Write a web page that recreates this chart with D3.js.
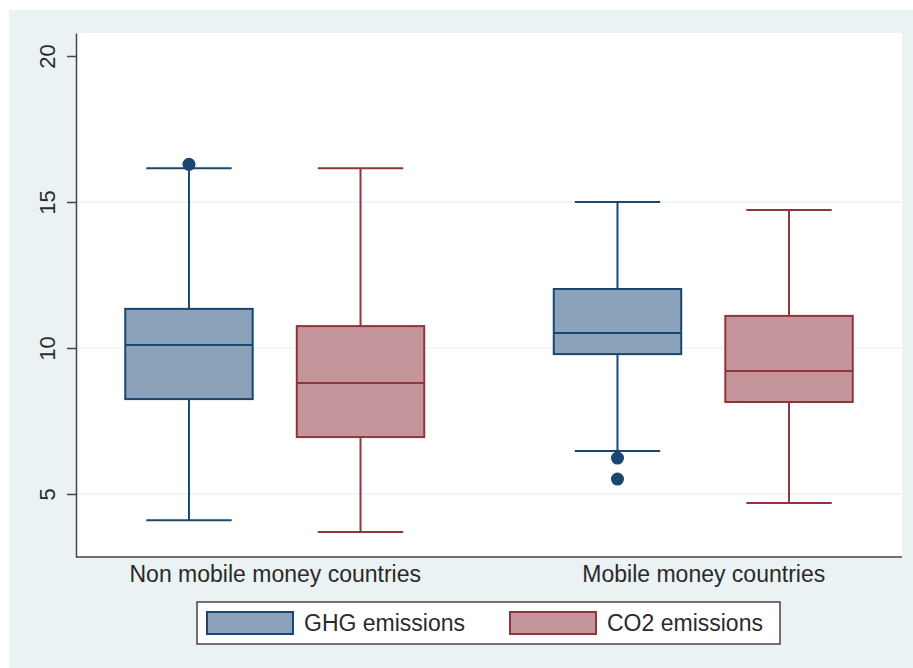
<!DOCTYPE html>
<html><head><meta charset="utf-8">
<script src="https://cdn.jsdelivr.net/npm/d3@7"></script>
<style>body{margin:0;background:#fff;}svg{display:block;font-family:"Liberation Sans",Arial,sans-serif;}</style>
</head><body>
<svg id="chart" width="913" height="668"></svg>
<script>
const groups = ["Non mobile money countries", "Mobile money countries"];
const series = ["GHG emissions", "CO2 emissions"];
// [lowerWhisker, Q1, median, Q3, upperWhisker] per group
const ghgStats = [[4.10, 8.25, 10.10, 11.34, 16.16], [6.47, 9.79, 10.51, 12.02, 15.00]];
const co2Stats = [[3.70, 6.95, 8.80, 10.75, 16.16], [4.69, 8.15, 9.21, 11.10, 14.73]];
const ghgOutliers = [[16.29], [6.23, 5.51]];
const co2Outliers = [[], []];
const yTicks = [5, 10, 15, 20];
const gridTicks = [5, 10, 15];

const fills = ["#8ba2ba", "#c4969b"];
const strokes = ["#1a476f", "#90353b"];

const svg = d3.select("#chart");
svg.append("rect").attr("x", 9).attr("y", 10).attr("width", 904).attr("height", 658).attr("fill", "#eaf2f3");

const L = 76, R = 902, T = 33, B = 557;
svg.append("rect").attr("x", L).attr("y", T).attr("width", R - L).attr("height", B - T).attr("fill", "#fff");

const y = d3.scaleLinear().domain([2.842, 20.788]).range([B, T]);
const x = d3.scalePoint().domain(groups).range([L, R]).padding(0.4638);
const xs = d3.scaleBand().domain(series).range([-149.5, 149.5]).paddingInner(0.257).paddingOuter(0);

// gridlines
svg.append("g").selectAll("line").data(gridTicks).join("line")
  .attr("x1", L).attr("x2", R).attr("y1", d => y(d)).attr("y2", d => y(d))
  .attr("stroke", "#e6eeef").attr("stroke-width", 1.2);

const data = [];
groups.forEach((g, gi) => {
  [ghgStats, co2Stats].forEach((st, si) => {
    const s = st[gi];
    data.push({g, s: series[si], si, lw: s[0], q1: s[1], med: s[2], q3: s[3], uw: s[4],
      out: (si === 0 ? ghgOutliers : co2Outliers)[gi]});
  });
});

const bw = xs.bandwidth();
const capW = bw * 0.67;
const boxes = svg.append("g").selectAll("g").data(data).join("g")
  .attr("transform", d => `translate(${x(d.g) + xs(d.s)},0)`);

// whiskers
boxes.append("line").attr("x1", bw / 2).attr("x2", bw / 2)
  .attr("y1", d => y(d.uw)).attr("y2", d => y(d.q3))
  .attr("stroke", d => strokes[d.si]).attr("stroke-width", 2);
boxes.append("line").attr("x1", bw / 2).attr("x2", bw / 2)
  .attr("y1", d => y(d.q1)).attr("y2", d => y(d.lw))
  .attr("stroke", d => strokes[d.si]).attr("stroke-width", 2);
boxes.append("line").attr("x1", bw / 2 - capW / 2).attr("x2", bw / 2 + capW / 2)
  .attr("y1", d => y(d.uw)).attr("y2", d => y(d.uw))
  .attr("stroke", d => strokes[d.si]).attr("stroke-width", 2);
boxes.append("line").attr("x1", bw / 2 - capW / 2).attr("x2", bw / 2 + capW / 2)
  .attr("y1", d => y(d.lw)).attr("y2", d => y(d.lw))
  .attr("stroke", d => strokes[d.si]).attr("stroke-width", 2);
// box
boxes.append("rect").attr("x", 0).attr("width", bw)
  .attr("y", d => y(d.q3)).attr("height", d => y(d.q1) - y(d.q3))
  .attr("fill", d => fills[d.si]).attr("stroke", d => strokes[d.si]).attr("stroke-width", 2);
boxes.append("line").attr("x1", 0).attr("x2", bw)
  .attr("y1", d => y(d.med)).attr("y2", d => y(d.med))
  .attr("stroke", d => strokes[d.si]).attr("stroke-width", 2);
// outliers
boxes.each(function (d) {
  d3.select(this).selectAll("circle").data(d.out).join("circle")
    .attr("cx", bw / 2).attr("cy", v => y(v)).attr("r", 6.5)
    .attr("fill", strokes[d.si]);
});

// axes
const yAxis = svg.append("g").attr("transform", `translate(${L},0)`)
  .call(d3.axisLeft(y).tickValues(yTicks).tickSize(9).tickSizeOuter(0).tickFormat(d3.format("d")));
yAxis.select(".domain").attr("stroke", "#444").attr("stroke-width", 1.5);
yAxis.selectAll(".tick line").attr("stroke", "#444").attr("stroke-width", 1.5);
yAxis.selectAll(".tick text").attr("x", 0).attr("dy", 0)
  .attr("transform", "translate(-21,0) rotate(-90)")
  .attr("text-anchor", "middle").attr("font-size", 22).attr("fill", "#2a2a2a")
  .attr("font-family", "'Liberation Sans',Arial,sans-serif");

const xAxis = svg.append("g").attr("transform", `translate(0,${B})`)
  .call(d3.axisBottom(x).tickSize(0).tickPadding(0).tickSizeOuter(0));
xAxis.select(".domain").attr("stroke", "#444").attr("stroke-width", 1.5).attr("d", `M${L},0H${R}`);
xAxis.selectAll(".tick text").attr("y", 25).attr("dy", 0).attr("font-size", 23).attr("fill", "#2a2a2a")
  .attr("font-family", "'Liberation Sans',Arial,sans-serif");

// legend
const lg = svg.append("g");
lg.append("rect").attr("x", 197).attr("y", 602).attr("width", 583).attr("height", 42)
  .attr("fill", "#fff").attr("stroke", "#444").attr("stroke-width", 1.5);
const items = lg.selectAll("g").data(series).join("g")
  .attr("transform", (d, i) => `translate(${i === 0 ? 207 : 510},612)`);
items.append("rect").attr("width", 86).attr("height", 22)
  .attr("fill", (d, i) => fills[i]).attr("stroke", (d, i) => strokes[i]).attr("stroke-width", 2);
items.append("text").attr("x", 97).attr("y", 19).text(d => d)
  .attr("font-size", 23).attr("fill", "#2a2a2a");
</script>
</body></html>
